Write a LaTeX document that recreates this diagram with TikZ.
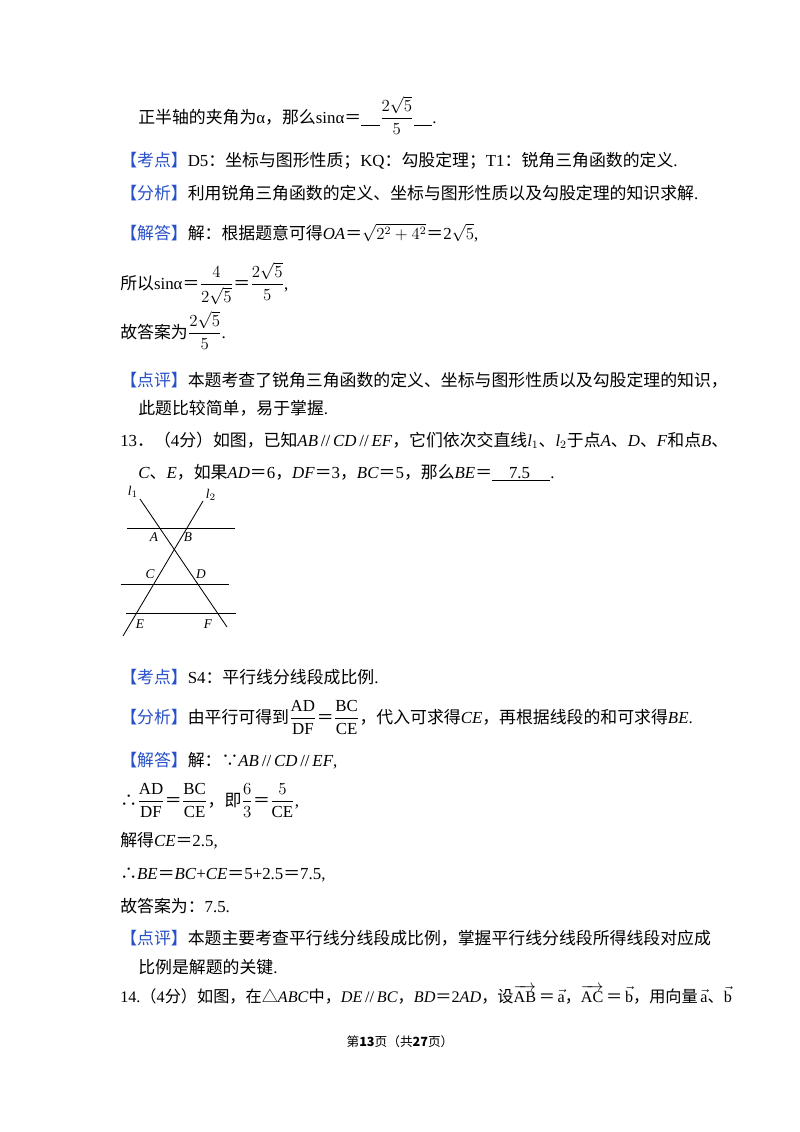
\documentclass[tikz,border=0pt]{standalone}
\usepackage{amsmath}
\usepackage{fontspec}
\setmainfont{Liberation Serif}
\newfontfamily\cjk{Noto Sans CJK SC}
\usetikzlibrary{positioning}
\definecolor{tagblue}{RGB}{40,80,200}
\newcommand{\headtag}[1]{{\color{tagblue}【#1】}}
\newcommand{\zh}[1]{{\cjk #1}}

\begin{document}
\begin{tikzpicture}[x=0.025cm,y=-0.025cm,
    txt/.style={anchor=base west,inner sep=0,font=\fontsize{12pt}{15pt}\selectfont},
    lbl/.style={inner sep=0,font=\fontsize{9.5pt}{10pt}\selectfont\itshape},
    line/.style={line width=0.6pt}]
  \useasboundingbox[fill=white] (0,0) rectangle (800,1132);

  % Text of question 12
  \node[txt] (t1) at (138,123) {\zh{正半轴的夹角为}α\zh{，那么}sinα\zh{＝}\underline{\hspace{1.1em}}$\dfrac{2\sqrt{5}}{5}$\underline{\hspace{1.1em}}.};
  \node[txt] (t2) at (120,166) {\zh{\headtag{考点}}D5\zh{：坐标与图形性质；}KQ\zh{：勾股定理；}T1\zh{：锐角三角函数的定义}.};
  \node[txt] (t3) at (120,199) {\zh{\headtag{分析}利用锐角三角函数的定义、坐标与图形性质以及勾股定理的知识求解}.};
  \node[txt] (t4) at (120,239) {\zh{\headtag{解答}解：根据题意可得}\textit{OA}\zh{＝}$\sqrt{2^2+4^2}$\zh{＝}2$\sqrt{5}$,};
  \node[txt] (t5) at (120,289) {\zh{所以}sinα\zh{＝}$\dfrac{4}{2\sqrt{5}}$\zh{＝}$\dfrac{2\sqrt{5}}{5}$,};
  \node[txt] (t6) at (120,338) {\zh{故答案为}$\dfrac{2\sqrt{5}}{5}$.};
  \node[txt] (t7) at (120,386) {\zh{\headtag{点评}本题考查了锐角三角函数的定义、坐标与图形性质以及勾股定理的知识，}};
  \node[txt] (t8) at (138,414) {\zh{此题比较简单，易于掌握}.};

  % Question 13
  \node[txt] (t9) at (120,446) {13\zh{．（}4\zh{分）如图，已知}\textit{AB}\,//\,\textit{CD}\,//\,\textit{EF}\zh{，它们依次交直线}\textit{l}$_1$\zh{、}\textit{l}$_2$\zh{于点}\textit{A}\zh{、}\textit{D}\zh{、}\textit{F}\zh{和点}\textit{B}\zh{、}};
  \node[txt] (t10) at (138,478) {\textit{C}\zh{、}\textit{E}\zh{，如果}\textit{AD}\zh{＝}6\zh{，}\textit{DF}\zh{＝}3\zh{，}\textit{BC}\zh{＝}5\zh{，那么}\textit{BE}\zh{＝}\underline{\hspace{1em}7.5\hspace{1.2em}}.};

  % Figure
  \coordinate (l1a) at (140,499);
  \coordinate (l1b) at (227,627);
  \coordinate (l2a) at (203,501);
  \coordinate (l2b) at (123,636);
  \draw[line] (l1a) -- (l1b);
  \draw[line] (l2a) -- (l2b);
  \draw[line] (127,528) coordinate (h1a) -- (235,528) coordinate (h1b);
  \draw[line] (121,584) coordinate (h2a) -- (229,584) coordinate (h2b);
  \draw[line] (126,613) coordinate (h3a) -- (236,613) coordinate (h3b);
  \node[lbl] (nl1) at (133,492) {l$_1$};
  \node[lbl] (nl2) at (211,495) {l$_2$};
  \node[lbl] (nA) at (154,537) {A};
  \node[lbl] (nB) at (188,537) {B};
  \node[lbl] (nC) at (150,574) {C};
  \node[lbl] (nD) at (201,574) {D};
  \node[lbl] (nE) at (140,624) {E};
  \node[lbl] (nF) at (208,624) {F};

  % Solution of question 13
  \node[txt] (t11) at (120,683) {\zh{\headtag{考点}}S4\zh{：平行线分线段成比例}.};
  \node[txt] (t12) at (120,723) {\zh{\headtag{分析}由平行可得到}$\dfrac{\mathrm{AD}}{\mathrm{DF}}$\zh{＝}$\dfrac{\mathrm{BC}}{\mathrm{CE}}$\zh{，代入可求得}\textit{CE}\zh{，再根据线段的和可求得}\textit{BE}.};
  \node[txt] (t13) at (120,766) {\zh{\headtag{解答}解：∵}\textit{AB}\,//\,\textit{CD}\,//\,\textit{EF},};
  \node[txt] (t14) at (120,806) {\zh{∴}$\dfrac{\mathrm{AD}}{\mathrm{DF}}$\zh{＝}$\dfrac{\mathrm{BC}}{\mathrm{CE}}$\zh{，即}$\dfrac{6}{3}$\zh{＝}$\dfrac{5}{\mathrm{CE}}$,};
  \node[txt] (t15) at (120,846) {\zh{解得}\textit{CE}\zh{＝}2.5,};
  \node[txt] (t16) at (120,879) {\zh{∴}\textit{BE}\zh{＝}\textit{BC}+\textit{CE}\zh{＝}5+2.5\zh{＝}7.5,};
  \node[txt] (t17) at (120,912) {\zh{故答案为：}7.5.};
  \node[txt] (t18) at (120,944) {\zh{\headtag{点评}本题主要考查平行线分线段成比例，掌握平行线分线段所得线段对应成}};
  \node[txt] (t19) at (138,973) {\zh{比例是解题的关键}.};

  % Question 14
  \node[txt,font=\fontsize{11.5pt}{14pt}\selectfont] (t20) at (120,1002) {14.\zh{（}4\zh{分）如图，在△}\textit{ABC}\zh{中，}\textit{DE}\,//\,\textit{BC}\zh{，}\textit{BD}\zh{＝}2\textit{AD}\zh{，设}$\overrightarrow{\mathrm{AB}}$\,\zh{＝}\,$\vec{\mathrm{a}}$\zh{，}$\overrightarrow{\mathrm{AC}}$\,\zh{＝}\,$\vec{\mathrm{b}}$\zh{，用向量}\,$\vec{\mathrm{a}}$\zh{、}$\vec{\mathrm{b}}$};

  % Footer
  \node[inner sep=0,font=\fontsize{9pt}{10pt}\selectfont] (foot) at (400,1042) {\zh{第\textbf{13}页（共\textbf{27}页）}};
\end{tikzpicture}
\end{document}
